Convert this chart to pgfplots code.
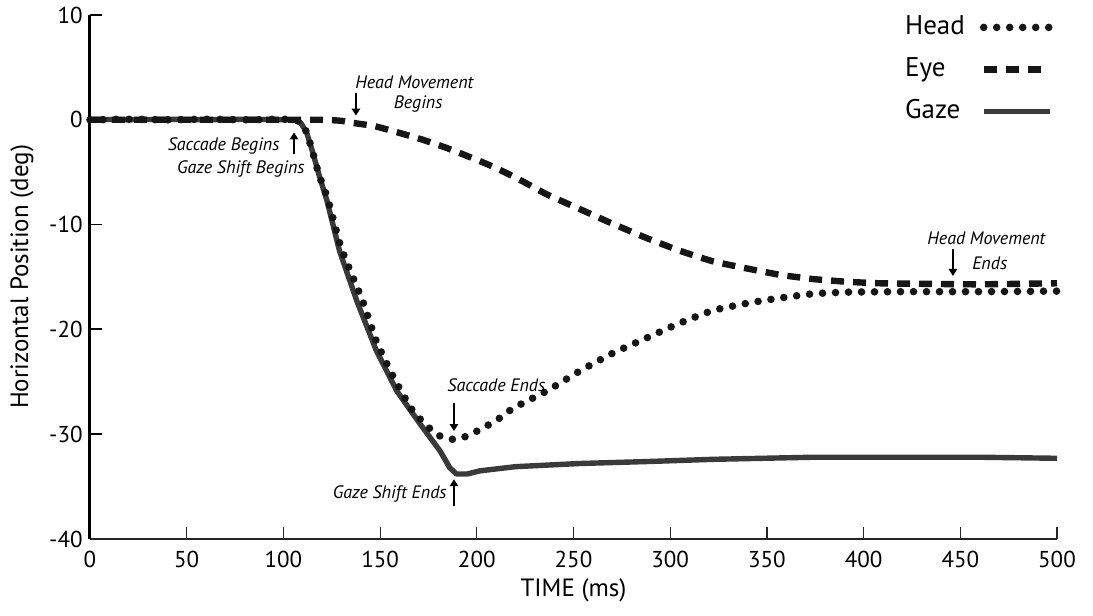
\documentclass[border=0pt]{standalone}
\usepackage{fontspec}
\setmainfont{PT Sans}
\usepackage{pgfplots}
\usepackage{pgfplotstable}
\pgfplotsset{compat=1.18}
\usetikzlibrary{arrows.meta}
\definecolor{gazec}{RGB}{58,58,58}
\definecolor{ink}{RGB}{22,22,22}

\pgfplotstableread{
t v
0 0.05
20 0.0
40 0.05
60 0.0
80 0.05
100 0.0
106 0.0
109 -0.3
112 -1.2
115 -3.0
118.5 -5.3
122.5 -7.7
129 -12.5
138 -17.3
148 -22.0
158.7 -25.9
170.6 -29.0
181 -31.6
186 -33.2
189.5 -33.8
195 -33.8
201.6 -33.5
220 -33.1
253 -32.8
290 -32.6
322 -32.4
374 -32.2
420 -32.2
460 -32.2
500 -32.3
}\gazetab

\pgfplotstableread{
t v
0 0.0
20 0.05
40 0.0
60 0.05
80 0.0
100 0.05
106 0.0
109 -0.3
112 -1.2
115 -3.0
118.5 -5.3
123 -7.6
130 -12.3
141 -17.3
148 -21.1
157 -24.6
167 -27.8
179 -30.0
188 -30.5
196 -30.1
210 -28.7
219 -27.5
236 -25.9
253 -24.0
270 -22.3
288 -20.8
305 -19.4
322 -18.2
340 -17.5
357 -17.0
374 -16.6
391 -16.45
420 -16.4
460 -16.4
500 -16.35
}\headtab

\pgfplotstableread{
t v
0 0.0
30 0.0
60 0.0
90 0.0
120 0.0
130 -0.1
136 -0.3
147 -0.6
159 -1.2
172 -1.9
184.6 -2.7
197 -3.6
210 -4.6
223 -5.8
236 -7.1
253 -8.5
270 -9.9
288 -11.3
305 -12.5
322 -13.5
340 -14.2
357 -14.8
374 -15.2
391 -15.45
408 -15.6
430 -15.65
460 -15.7
500 -15.6
}\eyetab

\begin{document}
\begin{tikzpicture}
\begin{axis}[name=ax, scale only axis, width=483.5pt, height=262pt,
  xmin=0, xmax=500, ymin=-40, ymax=10,
  axis lines=left, axis line style={-},
  x axis line style={line width=0.7pt, color=black!85},
  y axis line style={line width=1.5pt, color=black},
  xtick={0,50,...,500}, ytick={-40,-30,...,10},
  tick align=inside, major tick length=6pt,
  x tick style={line width=0.6pt, color=black!85},
  y tick style={line width=0.9pt, color=black},
  /pgf/number format/assume math mode=true,
  tick label style={font=\fontsize{11.5}{13}\selectfont},
  yticklabel style={inner sep=0pt, xshift=-3.5pt},
  xticklabel style={inner sep=0pt, yshift=-6pt},
  xlabel={TIME (ms)}, ylabel={Horizontal Position (deg)},
  every axis x label/.style={at={(rel axis cs:0.5,0)}, yshift=-25.5pt, anchor=center, font=\fontsize{12.5}{14}\selectfont},
  every axis y label/.style={at={(rel axis cs:0,0.5)}, xshift=-34pt, rotate=90, anchor=center, font=\fontsize{12.5}{14}\selectfont},
  clip=false,
  legend plot pos=right,
  legend cell align=left,
  legend style={at={(rel axis cs:1.003,1.0095)}, anchor=north east, draw=none, fill=none,
    font=\fontsize{13.5}{15}\selectfont, row sep=8pt, column sep=7.5pt,
    nodes={inner sep=0pt, text height=10pt, text depth=3pt}},
  legend image code/.code={\draw[#1] (0pt,0pt) -- (33pt,0pt);},
]
\addlegendimage{ink, line width=3.8pt, line cap=round, dash pattern=on 0pt off 6.5pt}
\addlegendimage{ink, line width=3.2pt, dash pattern=on 6.5pt off 4.5pt}
\addlegendimage{gazec, line width=2.7pt}
\legend{Head,Eye,Gaze}

\addplot[gazec, line width=2.7pt, line join=round, forget plot] table[x=t,y=v] {\gazetab};
\addplot[ink, line width=3.8pt, line cap=round, dash pattern=on 0pt off 6.5pt, forget plot, smooth, tension=0.3] table[x=t,y=v] {\headtab};
\addplot[ink, line width=3.2pt, dash pattern=on 6.5pt off 4.5pt, forget plot, smooth, tension=0.3] table[x=t,y=v] {\eyetab};

\tikzset{ann/.style={font=\fontsize{9}{10}\selectfont\itshape, inner sep=0pt},
  arr/.style={line width=1.3pt, -{Triangle[width=4.2pt,length=3.5pt]}}}
\node[ann, anchor=west] at (axis cs:137,3.53) {Head Movement};
\node[ann, anchor=east] at (axis cs:182.5,1.53) {Begins};
\draw[arr] (axis cs:137.5,2.55) -- (axis cs:137.5,0.4);

\node[ann, anchor=east] at (axis cs:98.2,-2.48) {Saccade Begins};
\node[ann, anchor=east] at (axis cs:111.2,-4.68) {Gaze Shift Begins};
\draw[arr] (axis cs:105.5,-3.3) -- (axis cs:105.5,-1.2);

\node[ann, anchor=west] at (axis cs:184.6,-25.3) {Saccade Ends};
\draw[arr] (axis cs:188.2,-27.0) -- (axis cs:188.2,-29.7);

\node[ann, anchor=east] at (axis cs:184.6,-35.7) {Gaze Shift Ends};
\draw[arr] (axis cs:188.2,-36.9) -- (axis cs:188.2,-34.3);

\node[ann, anchor=west] at (axis cs:432.8,-11.35) {Head Movement};
\node[ann, anchor=west] at (axis cs:456,-13.65) {Ends};
\draw[arr] (axis cs:446.2,-12.3) -- (axis cs:446.2,-14.9);
\end{axis}
\pgfresetboundingbox
\path (ax.south west) ++(-45pt,-38.5pt) coordinate (bl);
\path (ax.north east) ++(18pt,7.5pt) coordinate (tr);
\path[use as bounding box] (bl) rectangle (tr);
\end{tikzpicture}
\end{document}
